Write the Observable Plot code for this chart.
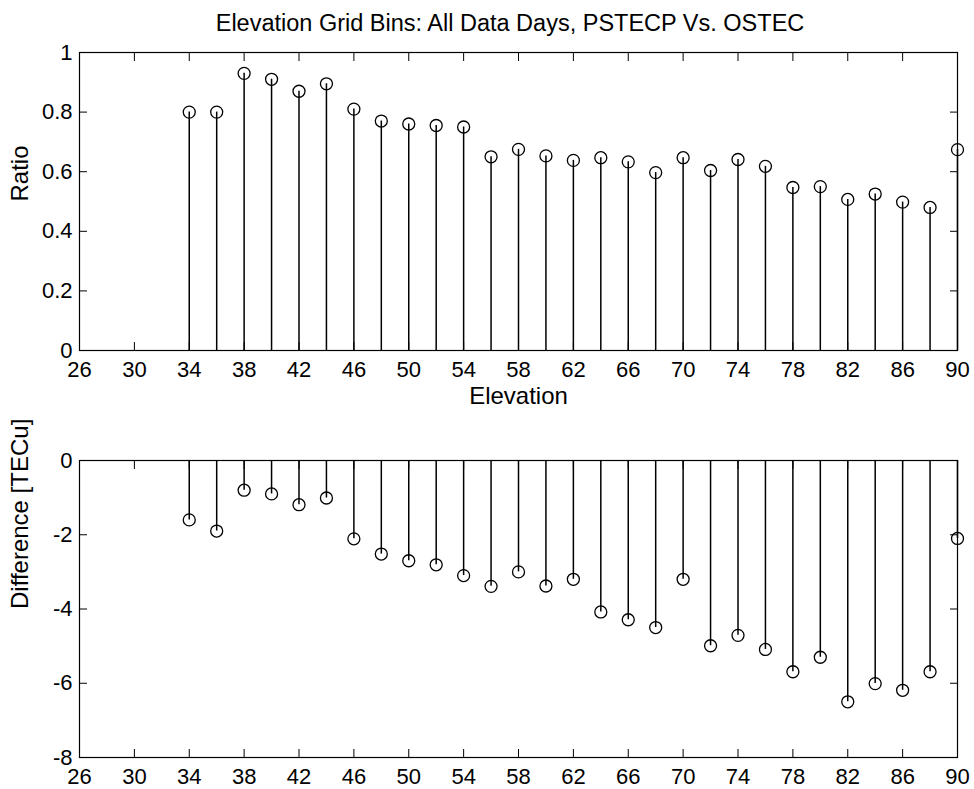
<!DOCTYPE html>
<html>
<head>
<meta charset="utf-8">
<script src="https://cdn.jsdelivr.net/npm/d3@7"></script>
<script src="https://cdn.jsdelivr.net/npm/@observablehq/plot@0.6"></script>
<style>
  body { margin: 0; background: #fff; font-family: "Liberation Sans", Arial, Helvetica, sans-serif; }
  #title { height: 42px; line-height: 46px; font-size: 23.5px; text-align: center; padding-left: 46px; width: 928px; color: #000; white-space: nowrap; }
  #charts svg { display: block; }
</style>
</head>
<body>
<div id="title"></div>
<div id="charts"></div>
<script>
// ---- data ----
const elevation = [34, 36, 38, 40, 42, 44, 46, 48, 50, 52, 54, 56, 58, 60, 62, 64, 66, 68, 70, 72, 74, 76, 78, 80, 82, 84, 86, 88, 90];
const ratio = [0.80, 0.80, 0.93, 0.91, 0.87, 0.895, 0.81, 0.77, 0.76, 0.755, 0.75, 0.65, 0.675, 0.653, 0.638, 0.647, 0.633, 0.597, 0.647, 0.604, 0.641, 0.618, 0.547, 0.55, 0.507, 0.525, 0.498, 0.48, 0.674];
const difference = [-1.6, -1.9, -0.8, -0.9, -1.19, -1.01, -2.11, -2.52, -2.7, -2.81, -3.1, -3.39, -3.0, -3.38, -3.2, -4.08, -4.29, -4.5, -3.2, -4.99, -4.71, -5.09, -5.69, -5.3, -6.5, -6.01, -6.19, -5.69, -2.1];
const xTicks = [26, 30, 34, 38, 42, 46, 50, 54, 58, 62, 66, 70, 74, 78, 82, 86, 90];
const ratioTicks = [0, 0.2, 0.4, 0.6, 0.8, 1];
const diffTicks = [-8, -6, -4, -2, 0];
const title = "Elevation Grid Bins: All Data Days, PSTECP Vs. OSTEC";
const xLabel = "Elevation";
const ratioLabel = "Ratio";
const diffLabel = "Difference [TECu]";

document.getElementById("title").textContent = title;

const font = '"Liberation Sans", Arial, Helvetica, sans-serif';

function panel({values, yDomain, yTicks, yLabel, xLab, height, marginTop, marginBottom}) {
  const data = elevation.map((e, i) => ({elev: e, v: values[i]}));
  const marks = [
    Plot.frame({stroke: "black", strokeWidth: 1.2}),
    Plot.axisX(xTicks, {anchor: "bottom", tickSize: 0, tickPadding: 11, tickFormat: d => String(d), label: null}),
    Plot.axisX(xTicks, {anchor: "bottom", tickSize: -8, fill: "none", label: null}),
    Plot.axisX(xTicks, {anchor: "top", tickSize: -8, fill: "none", label: null}),
    Plot.axisY(yTicks, {anchor: "left", tickSize: 0, tickPadding: 7, tickFormat: d => String(d), label: null}),
    Plot.axisY(yTicks, {anchor: "left", tickSize: -8, fill: "none", label: null}),
    Plot.axisY(yTicks, {anchor: "right", tickSize: -8, fill: "none", label: null}),
    Plot.ruleX(data, {x: "elev", y1: 0, y2: "v", stroke: "black", strokeWidth: 1.5}),
    Plot.dot(data, {x: "elev", y: "v", r: 6, stroke: "black", strokeWidth: 1.3, fill: "none"}),
    Plot.text([yLabel], {text: d => d, frameAnchor: "left", dx: -59, rotate: -90, fontSize: 24, fill: "black"})
  ];
  if (xLab) marks.push(Plot.text([xLab], {text: d => d, frameAnchor: "bottom", dy: 46, lineAnchor: "middle", fontSize: 24, fill: "black"}));
  return Plot.plot({
    width: 974,
    height,
    marginLeft: 79,
    marginRight: 17,
    marginTop,
    marginBottom,
    style: {fontFamily: font, fontSize: "22px", color: "black", background: "white", overflow: "visible"},
    x: {domain: [26, 90], label: null},
    y: {domain: yDomain, label: null},
    marks
  });
}

const charts = document.getElementById("charts");
charts.appendChild(panel({values: ratio, yDomain: [0, 1], yTicks: ratioTicks, yLabel: ratioLabel, xLab: xLabel, height: 368, marginTop: 10, marginBottom: 60}));
charts.appendChild(panel({values: difference, yDomain: [-8, 0], yTicks: diffTicks, yLabel: diffLabel, xLab: null, height: 379, marginTop: 50, marginBottom: 32}));
</script>
</body>
</html>
